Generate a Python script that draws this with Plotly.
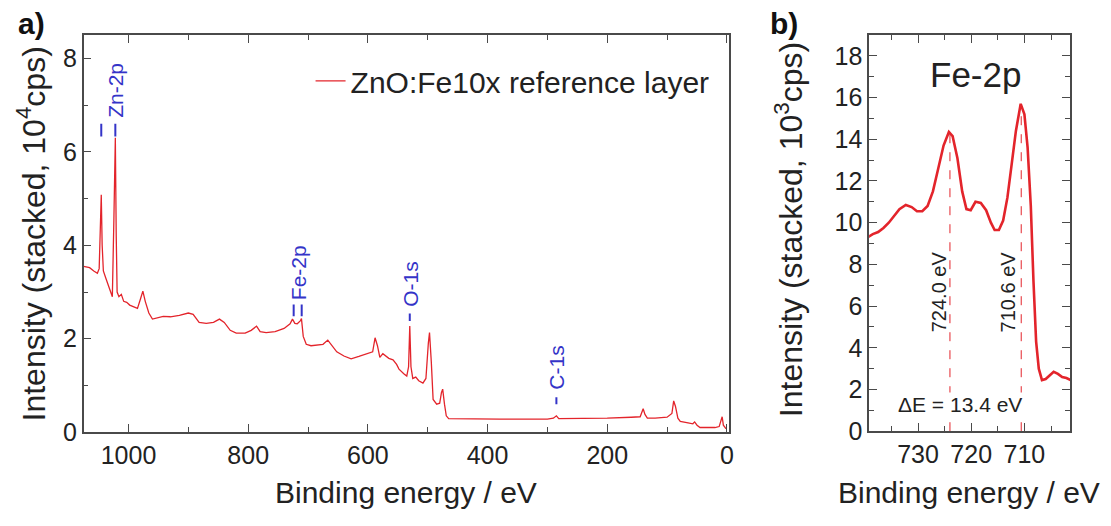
import plotly.graph_objects as go

# ---------------- data ----------------
# survey spectrum (binding energy in eV, intensity in 10^4 cps)
survey_energy = [1075, 1065, 1058, 1052, 1049, 1047, 1045.5, 1044, 1042, 1038, 1034, 1030, 1027,
                 1024.5, 1022, 1020.5, 1019, 1016, 1012, 1008, 1003, 998, 990, 985, 980, 976, 972,
                 966, 960, 952, 942, 930, 915, 900, 892, 882, 870, 858, 848, 840, 830, 820, 805,
                 795, 786, 780, 770, 755, 740, 730, 726, 722, 718, 713, 711, 708, 703, 695, 685,
                 675, 667, 660, 652, 640, 628, 615, 600, 592, 588, 584, 580, 575, 565, 558, 552,
                 548, 540, 535, 532, 530, 528, 525, 520, 515, 508, 503, 499, 497, 494, 491, 485,
                 480, 477, 475, 472, 469, 465, 420, 380, 340, 300, 290, 285, 281, 240, 200, 160,
                 145, 140, 137, 133, 120, 100, 92, 89, 86, 82, 78, 65, 57, 54, 50, 45, 20, 13,
                 10, 8, 6, 2, 0]
survey_counts = [3.55, 3.52, 3.45, 3.40, 3.50, 4.20, 5.08, 4.00, 3.45, 3.30, 3.15, 3.00, 2.90,
                 4.50, 6.30, 4.20, 3.00, 2.90, 2.95, 2.80, 2.78, 2.72, 2.68, 2.65, 2.85, 3.02, 2.80,
                 2.55, 2.42, 2.45, 2.48, 2.47, 2.50, 2.55, 2.52, 2.35, 2.33, 2.35, 2.42, 2.35, 2.18,
                 2.12, 2.12, 2.18, 2.27, 2.15, 2.13, 2.15, 2.22, 2.32, 2.42, 2.33, 2.32, 2.38, 2.43,
                 2.05, 1.88, 1.85, 1.86, 1.88, 1.97, 1.85, 1.72, 1.63, 1.57, 1.62, 1.68, 1.72, 2.02,
                 1.85, 1.60, 1.68, 1.58, 1.55, 1.45, 1.35, 1.25, 1.20, 1.40, 2.27, 1.40, 1.15, 1.18,
                 1.10, 1.05, 1.15, 1.90, 2.13, 1.50, 0.70, 0.60, 0.62, 0.85, 0.92, 0.60, 0.35, 0.29,
                 0.28, 0.28, 0.28, 0.28, 0.30, 0.35, 0.29, 0.29, 0.30, 0.32, 0.33, 0.50, 0.38, 0.30,
                 0.30, 0.32, 0.40, 0.67, 0.55, 0.30, 0.23, 0.20, 0.18, 0.22, 0.15, 0.10, 0.10, 0.12,
                 0.25, 0.33, 0.15, 0.08, 0.08]

# Fe-2p detail spectrum (binding energy in eV, intensity in 10^3 cps)
fe_energy = [739.5, 738.5, 737.5, 736.5, 735.5, 734.5, 733.5, 732.3, 731.2, 730.2, 729.2, 728.2,
             727.2, 726.2, 725.2, 724.2, 723.5, 722.6, 721.7, 720.9, 720.1, 719.2, 718.2, 717.2,
             716.3, 715.6, 714.8, 714.0, 713.2, 712.4, 711.6, 710.7, 710.0, 709.4, 708.8, 708.3,
             707.8, 707.3, 706.7, 706.0, 705.3, 704.5, 703.7, 702.9, 702.1, 701.3]
fe_counts = [9.30, 9.45, 9.55, 9.75, 10.00, 10.30, 10.65, 10.85, 10.75, 10.55, 10.55, 10.80,
             11.50, 12.60, 13.70, 14.35, 14.15, 13.10, 11.50, 10.65, 10.60, 11.00, 10.95, 10.60,
             10.00, 9.65, 9.65, 10.10, 11.20, 12.80, 14.40, 15.70, 15.20, 13.60, 10.80, 7.20,
             4.30, 3.00, 2.45, 2.50, 2.65, 2.85, 2.75, 2.60, 2.55, 2.45]

peak_labels = ["Zn-2p", "Fe-2p", "O-1s", "C-1s"]
peak_label_energy = [1023, 717, 529, 285]
peak_mark_energy = [[1045.5, 1022], [724, 710.6], [530], [285]]

fe_peak_energy = [724.0, 710.6]
fe_peak_height = [14.3, 15.6]
fe_peak_text = ["724.0 eV", "710.6 eV"]
delta_text = "ΔE = 13.4 eV"

legend_name = "ZnO:Fe10x reference layer"

# ---------------- style ----------------
FONT = "Liberation Sans, Arial, sans-serif"
RED = "#e3242b"
BLUE = "#3434c8"
AX = "#4a4a4a"
TXT = "#222222"

fig = go.Figure()
fig.add_trace(go.Scatter(x=survey_energy, y=survey_counts, mode="lines",
                         line=dict(color=RED, width=1.3), name=legend_name,
                         xaxis="x", yaxis="y", showlegend=True))
fig.add_trace(go.Scatter(x=fe_energy, y=fe_counts, mode="lines",
                         line=dict(color=RED, width=2.6), name="Fe-2p",
                         xaxis="x2", yaxis="y2", showlegend=False))

# dashed guide lines in Fe-2p panel
for e, h in zip(fe_peak_energy, fe_peak_height):
    fig.add_trace(go.Scatter(x=[e, e], y=[0, h], mode="lines",
                             line=dict(color=RED, width=1, dash="dash"),
                             xaxis="x2", yaxis="y2", showlegend=False, hoverinfo="skip"))

axis_common = dict(showgrid=False, zeroline=False, showline=True, linecolor=AX, linewidth=1.5,
                   ticks="inside", ticklen=8, tickwidth=1.3, tickcolor=AX,
                   tickfont=dict(family=FONT, size=25, color=TXT))

fig.update_layout(
    width=1111, height=526,
    margin=dict(l=0, r=0, t=0, b=0),
    paper_bgcolor="white", plot_bgcolor="white",
    font=dict(family=FONT, color=TXT),
    xaxis=dict(domain=[0.0756, 0.6589], range=[1075, -3], dtick=200, tick0=0,
               minor=dict(dtick=100, ticks="inside", ticklen=5, tickcolor=AX),
               mirror="ticks", anchor="y", **axis_common),
    yaxis=dict(domain=[0.1559, 0.9316], range=[0, 8.5], dtick=2, tick0=0,
               minor=dict(dtick=1, ticks="inside", ticklen=5, tickcolor=AX),
               mirror=True, anchor="x", **axis_common),
    xaxis2=dict(domain=[0.7858, 0.9676], range=[739.2, 701.4], dtick=10, tick0=0,
                minor=dict(dtick=5, ticks="inside", ticklen=5, tickcolor=AX),
                mirror="ticks", anchor="y2", **axis_common),
    yaxis2=dict(domain=[0.1578, 0.9316], range=[0, 19], dtick=2, tick0=0,
                minor=dict(dtick=1, ticks="inside", ticklen=5, tickcolor=AX),
                mirror="ticks", anchor="x2", **axis_common),
    legend=dict(x=0.2808, y=0.842, xanchor="left", yanchor="middle",
                bgcolor="rgba(0,0,0,0)", font=dict(family=FONT, size=30, color=TXT)),
)

shapes = []
annotations = []

# peak markers on survey spectrum
bar_ranges = [(6.33, 6.6), (2.48, 2.73), (2.38, 2.54), (0.6, 0.75)]
label_bottoms = [6.69, 2.79, 2.65, 0.875]
for lab, le, marks, (y0, y1), yb in zip(peak_labels, peak_label_energy, peak_mark_energy,
                                         bar_ranges, label_bottoms):
    for m in marks:
        shapes.append(dict(type="line", xref="x", yref="y", x0=m, x1=m, y0=y0, y1=y1,
                           line=dict(color=BLUE, width=2)))
    annotations.append(dict(text=lab, x=le, y=yb, xref="x", yref="y", showarrow=False,
                            textangle=-90, xanchor="center", yanchor="bottom",
                            font=dict(family=FONT, size=21, color=BLUE)))

# Fe-2p panel texts
annotations.append(dict(text="Fe-2p", x=980 / 1111, y=17.1, xref="paper", yref="y2",
                        xanchor="center", yanchor="middle",
                        showarrow=False, font=dict(family=FONT, size=35, color=TXT)))
annotations.append(dict(text=fe_peak_text[0], x=726.1, y=6.7, xref="x2", yref="y2",
                        xanchor="center", yanchor="middle",
                        showarrow=False, textangle=-90, font=dict(family=FONT, size=20, color=TXT)))
annotations.append(dict(text=fe_peak_text[1], x=713.1, y=6.7, xref="x2", yref="y2",
                        xanchor="center", yanchor="middle",
                        showarrow=False, textangle=-90, font=dict(family=FONT, size=20, color=TXT)))
annotations.append(dict(text=delta_text, x=964 / 1111, y=1.3, xref="paper", yref="y2",
                        xanchor="center", yanchor="middle",
                        showarrow=False, bgcolor="white", borderpad=0,
                        font=dict(family=FONT, size=21, color=TXT)))

# axis titles
annotations.append(dict(text="Binding energy / eV", x=408 / 1111, y=1 - 506 / 526,
                        xref="paper", yref="paper", xanchor="center", yanchor="middle",
                        showarrow=False, font=dict(family=FONT, size=30, color=TXT)))
annotations.append(dict(text="Binding energy / eV", x=973 / 1111, y=1 - 506 / 526,
                        xref="paper", yref="paper", xanchor="center", yanchor="middle",
                        showarrow=False, font=dict(family=FONT, size=30, color=TXT)))
annotations.append(dict(text="Intensity (stacked, 10<sup>4</sup>cps)", x=31 / 1111, y=1 - 240 / 526,
                        xref="paper", yref="paper", xanchor="center", yanchor="middle",
                        showarrow=False, textangle=-90,
                        font=dict(family=FONT, size=32, color=TXT)))
annotations.append(dict(text="Intensity (stacked, 10<sup>3</sup>cps)", x=792 / 1111, y=1 - 236 / 526,
                        xref="paper", yref="paper", xanchor="center", yanchor="middle",
                        showarrow=False, textangle=-90,
                        font=dict(family=FONT, size=32, color=TXT)))

# panel letters
annotations.append(dict(text="<b>a)</b>", x=32 / 1111, y=1 - 24 / 526, xref="paper", yref="paper",
                        xanchor="center", yanchor="middle",
                        showarrow=False, font=dict(family=FONT, size=30, color="#111")))
annotations.append(dict(text="<b>b)</b>", x=788 / 1111, y=1 - 24 / 526, xref="paper", yref="paper",
                        xanchor="center", yanchor="middle",
                        showarrow=False, font=dict(family=FONT, size=30, color="#111")))

fig.update_layout(shapes=shapes, annotations=annotations)
fig.write_html("out.html", config={"displayModeBar": False},
               post_script="document.body.style.margin='0';document.body.style.overflow='hidden';")
